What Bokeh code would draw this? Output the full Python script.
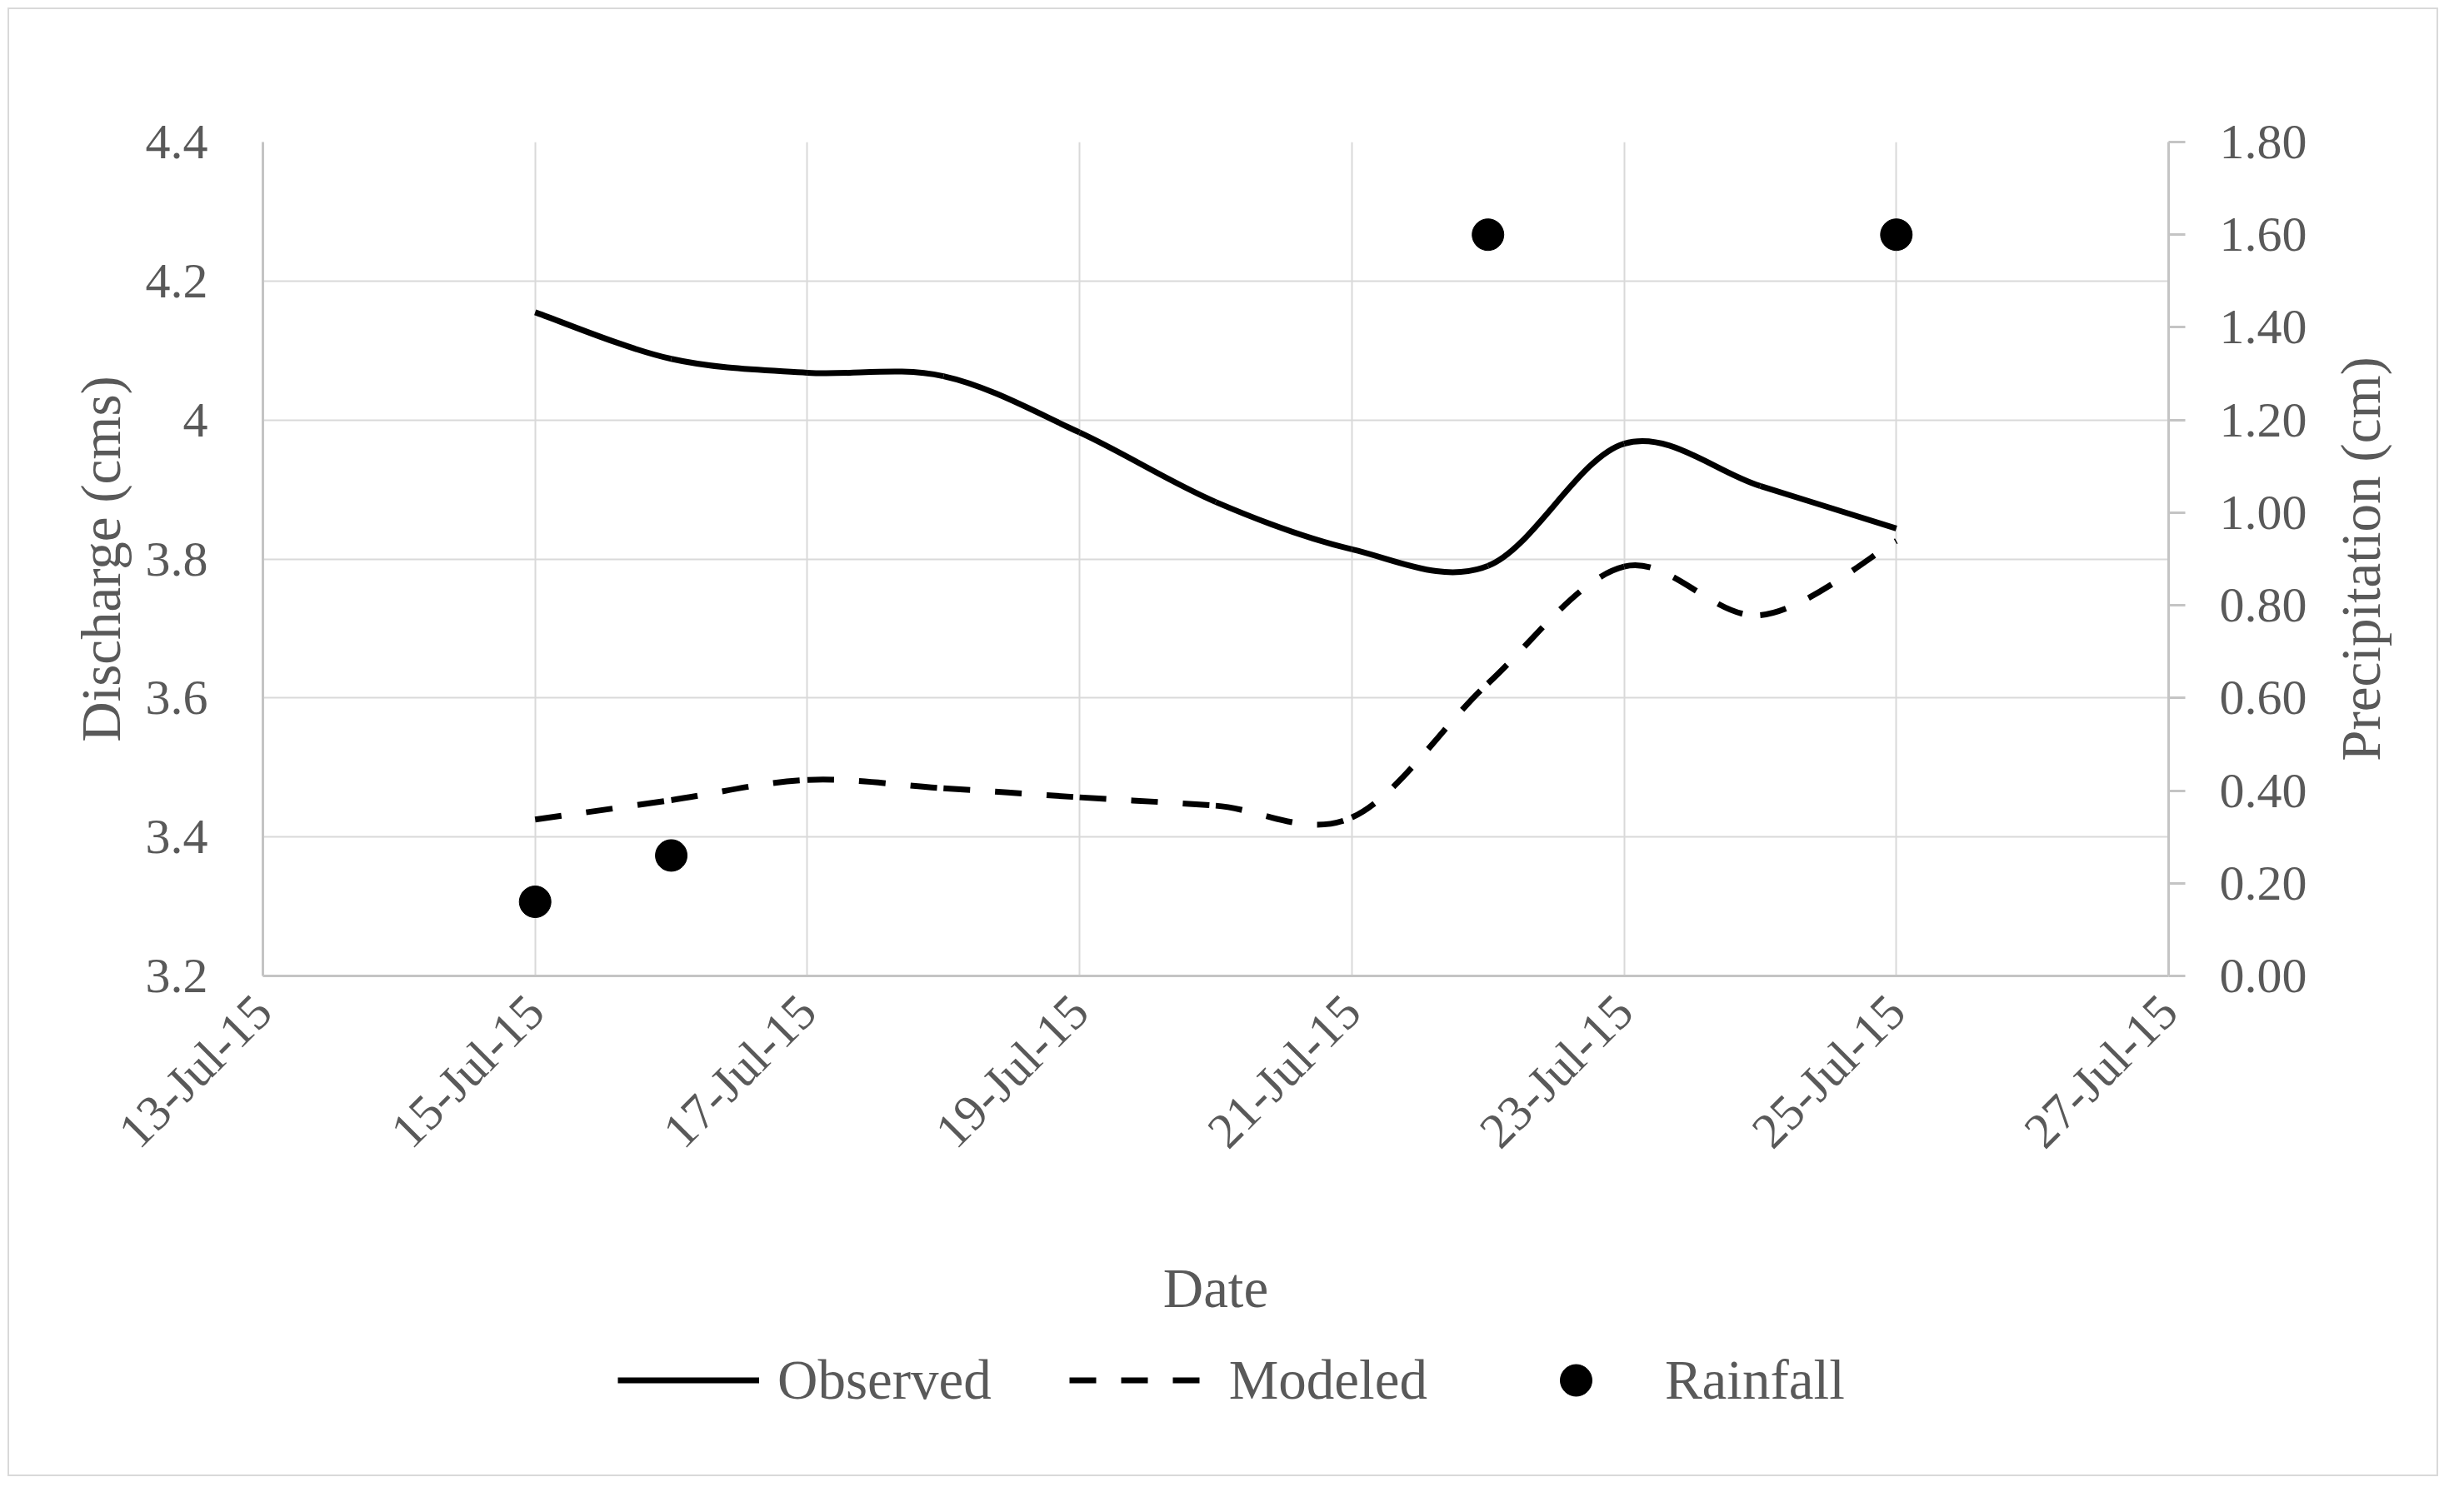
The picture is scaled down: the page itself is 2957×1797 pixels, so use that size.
import pandas as pd
from math import pi
from bokeh.plotting import figure
from bokeh.layouts import column, row
from bokeh.models import (Range1d, LinearAxis, FixedTicker, DatetimeTickFormatter,
                          Legend, LegendItem, ColumnDataSource)
from bokeh.embed import file_html
from bokeh.resources import INLINE

# ---------------- data ----------------
dates = ["2015-07-15", "2015-07-16", "2015-07-17", "2015-07-18", "2015-07-19", "2015-07-20",
         "2015-07-21", "2015-07-22", "2015-07-23", "2015-07-24", "2015-07-25"]
observed = [4.155, 4.088, 4.068, 4.063, 3.982, 3.882, 3.814, 3.790, 3.966, 3.905, 3.844]
modeled = [3.425, 3.453, 3.482, 3.470, 3.457, 3.445, 3.428, 3.621, 3.789, 3.719, 3.826]
rain_dates = ["2015-07-15", "2015-07-16", "2015-07-22", "2015-07-25"]
rainfall = [0.16, 0.26, 1.60, 1.60]

x_tick_dates = ["2015-07-13", "2015-07-15", "2015-07-17", "2015-07-19", "2015-07-21",
                "2015-07-23", "2015-07-25", "2015-07-27"]
y_ticks = [3.2, 3.4, 3.6, 3.8, 4.0, 4.2, 4.4]
y_labels = ["3.2", "3.4", "3.6", "3.8", "4", "4.2", "4.4"]
rain_ticks = [0.0, 0.2, 0.4, 0.6, 0.8, 1.0, 1.2, 1.4, 1.6, 1.8]
rain_labels = ["0.00", "0.20", "0.40", "0.60", "0.80", "1.00", "1.20", "1.40", "1.60", "1.80"]
series_names = ["Observed", "Modeled", "Rainfall"]


def ms(s):
    return pd.Timestamp(s).value // 10**6


def smooth(xs, ys):
    """Excel-style smoothed line: cubic Bezier segments between the data points."""
    n = len(xs)
    d = dict(x0=[], y0=[], x1=[], y1=[], cx0=[], cy0=[], cx1=[], cy1=[])
    for i in range(n - 1):
        a = max(i - 1, 0)
        b = min(i + 2, n - 1)
        d["x0"].append(xs[i]); d["y0"].append(ys[i])
        d["x1"].append(xs[i + 1]); d["y1"].append(ys[i + 1])
        d["cx0"].append(xs[i] + (xs[i + 1] - xs[a]) / 6)
        d["cy0"].append(ys[i] + (ys[i + 1] - ys[a]) / 6)
        d["cx1"].append(xs[i + 1] - (xs[b] - xs[i]) / 6)
        d["cy1"].append(ys[i + 1] - (ys[b] - ys[i]) / 6)
    return ColumnDataSource(d)


xs = [ms(d) for d in dates]
rx = [ms(d) for d in rain_dates]
xt = [ms(d) for d in x_tick_dates]

FONT = "Liberation Serif"
FS_TICK = "60px"
FS_TITLE = "67px"
TXT = "#595959"
GRID = "#d9d9d9"
AXC = "#c4c4c4"
DASH = "32 30"

MAIN_W, MAIN_H = 2792, 1601
RIGHT_W = 143
LEG_H = 180
MB_TOP, MB_BOTTOM = 170, 430

# ---------------- main chart ----------------
p = figure(width=MAIN_W, height=MAIN_H, x_axis_type="datetime",
           x_range=Range1d(ms("2015-07-13"), ms("2015-07-27")),
           y_range=Range1d(3.2, 4.4),
           output_backend="svg", toolbar_location=None,
           min_border_left=315, min_border_right=190,
           min_border_top=MB_TOP, min_border_bottom=MB_BOTTOM)
p.outline_line_color = None
p.background_fill_color = "white"
p.border_fill_alpha = 0
p.extra_y_ranges = {"rain": Range1d(0, 1.8)}

p.xgrid.ticker = FixedTicker(ticks=xt)
p.ygrid.ticker = FixedTicker(ticks=y_ticks)
for g in (p.xgrid[0], p.ygrid[0]):
    g.grid_line_color = GRID
    g.grid_line_width = 2

xa = p.xaxis[0]
xa.ticker = FixedTicker(ticks=xt)
fmt = "%d-%b-%y"
xa.formatter = DatetimeTickFormatter(days=fmt, months=fmt, hours=fmt, years=fmt,
                                     microseconds=fmt, milliseconds=fmt, seconds=fmt,
                                     minsec=fmt, minutes=fmt, hourmin=fmt)
xa.major_label_orientation = pi / 4
xa.axis_label = "Date"
xa.major_label_standoff = 33
xa.axis_label_standoff = 92

ya = p.yaxis[0]
ya.ticker = FixedTicker(ticks=y_ticks)
ya.major_label_overrides = dict(zip(y_ticks, y_labels))
ya.axis_label = "Discharge (cms)"
ya.major_label_standoff = 66
ya.axis_label_standoff = 14

ra = LinearAxis(y_range_name="rain")
ra.ticker = FixedTicker(ticks=rain_ticks)
ra.major_label_overrides = dict(zip(rain_ticks, rain_labels))
ra.major_label_standoff = 41
p.add_layout(ra, "right")

for ax in (xa, ya, ra):
    ax.major_label_text_font = FONT
    ax.major_label_text_font_size = FS_TICK
    ax.major_label_text_color = TXT
    ax.axis_label_text_font = FONT
    ax.axis_label_text_font_size = FS_TITLE
    ax.axis_label_text_color = TXT
    ax.axis_label_text_font_style = "normal"
    ax.axis_line_color = AXC
    ax.axis_line_width = 3
    ax.minor_tick_line_color = None
    ax.major_tick_in = 0
    ax.major_tick_line_color = AXC
    ax.major_tick_line_width = 3

xa.major_tick_out = 0
ya.major_tick_out = 0
ra.major_tick_out = 20

p.bezier(x0="x0", y0="y0", x1="x1", y1="y1", cx0="cx0", cy0="cy0", cx1="cx1", cy1="cy1",
         source=smooth(xs, observed), line_color="black", line_width=7)
p.bezier(x0="x0", y0="y0", x1="x1", y1="y1", cx0="cx0", cy0="cy0", cx1="cx1", cy1="cy1",
         source=smooth(xs, modeled), line_color="black", line_width=7, line_dash=DASH)
p.scatter(x=rx, y=rainfall, y_range_name="rain", size=38,
          fill_color="black", line_color="black")

# ---------------- right title strip (secondary axis title, reads upward) ----------------
rf = figure(width=RIGHT_W, height=MAIN_H, x_range=Range1d(0, 1), y_range=Range1d(0, 1.8),
            output_backend="svg", toolbar_location=None,
            min_border_left=87, min_border_right=0,
            min_border_top=MB_TOP, min_border_bottom=MB_BOTTOM,
            x_axis_location=None, y_axis_location="left")
rf.grid.visible = False
rf.outline_line_color = None
rf.border_fill_alpha = 0
rf.background_fill_alpha = 0
rya = rf.yaxis[0]
rya.ticker = FixedTicker(ticks=[])
rya.axis_line_color = None
rya.major_tick_line_color = None
rya.minor_tick_line_color = None
rya.axis_label = "Precipitation (cm)"
rya.axis_label_standoff = 10
rya.axis_label_text_font = FONT
rya.axis_label_text_font_size = FS_TITLE
rya.axis_label_text_color = TXT
rya.axis_label_text_font_style = "normal"

# ---------------- legend strip ----------------
lf = figure(width=MAIN_W + RIGHT_W, height=LEG_H, x_range=Range1d(0, 1), y_range=Range1d(0, 1),
            output_backend="svg", toolbar_location=None, min_border=0,
            x_axis_location=None, y_axis_location=None)
lf.grid.visible = False
lf.outline_line_color = None
lf.border_fill_alpha = 0
lf.background_fill_alpha = 0
nan = float("nan")
obs_leg = lf.line(x=[nan], y=[nan], line_color="black", line_width=7)
mod_leg = lf.line(x=[nan], y=[nan], line_color="black", line_width=7, line_dash=DASH)
rain_leg = lf.scatter(x=[nan], y=[nan], size=38, fill_color="black", line_color="black")
legend = Legend(items=[LegendItem(label=series_names[0], renderers=[obs_leg]),
                       LegendItem(label=series_names[1], renderers=[mod_leg]),
                       LegendItem(label=series_names[2], renderers=[rain_leg])],
                orientation="horizontal", location=(741, 77),
                glyph_width=170, glyph_height=95, label_standoff=22, spacing=93,
                padding=0, margin=0, border_line_color=None, background_fill_alpha=0,
                label_text_font=FONT, label_text_font_size=FS_TITLE, label_text_color=TXT)
lf.add_layout(legend)

layout = column(row(p, rf), lf)
layout.styles = {"outline": "2px solid #d9d9d9", "outline-offset": "-11px"}

open("out.html", "w").write(file_html(layout, INLINE))
